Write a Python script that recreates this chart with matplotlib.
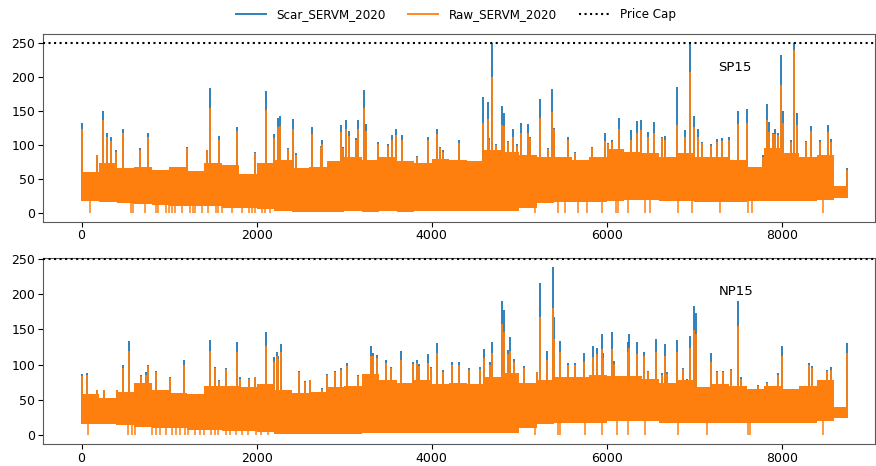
import numpy as np
import matplotlib
matplotlib.use("Agg")
import matplotlib.pyplot as plt

bin_start = list(range(0, 8800, 200))

sp15_high = [60, 74, 66, 68, 64, 68, 62, 74, 70, 58, 74,
             78, 66, 68, 76, 83, 78, 82, 76, 74, 80, 78,
             76, 93, 90, 85, 83, 83, 78, 83, 94, 90, 88,
             82, 88, 83, 83, 78, 68, 96, 88, 83, 85, 40]
sp15_low = [18, 16, 15, 14, 12, 10, 10, 10, 8, 8, 6,
            3, 2, 2, 2, 3, 2, 3, 2, 3, 3, 4,
            3, 3, 3, 8, 15, 17, 17, 17, 18, 20, 20,
            18, 18, 17, 17, 17, 18, 18, 18, 18, 20, 22]

np15_high = [58, 53, 61, 74, 64, 60, 58, 70, 70, 68, 72,
             64, 60, 62, 68, 70, 87, 78, 74, 78, 73, 74,
             72, 83, 88, 74, 78, 83, 83, 86, 84, 84, 80,
             74, 78, 68, 73, 70, 66, 70, 66, 70, 78, 40]
np15_low = [16, 16, 14, 12, 10, 10, 8, 8, 6, 6, 4,
            2, 2, 2, 2, 2, 3, 3, 3, 3, 3, 3,
            3, 3, 3, 10, 16, 18, 18, 18, 20, 20, 20,
            18, 18, 17, 17, 17, 18, 18, 18, 18, 20, 24]

sp15_spike_hour = [8, 175, 248, 294, 339, 395, 469, 670, 755, 1200, 1437, 1471, 1574, 1772,
                   1981, 2111, 2198, 2243, 2270, 2354, 2411, 2449, 2628, 2731, 2750, 2960,
                   2983, 3017, 3059, 3139, 3158, 3226, 3253, 3390, 3505, 3543, 3588, 3657,
                   3828, 3954, 4057, 4095, 4133, 4316, 4590, 4640, 4655, 4693, 4732, 4800,
                   4831, 4876, 4926, 4972, 5021, 5097, 5128, 5234, 5334, 5379, 5402, 5554,
                   5638, 5836, 5981, 6019, 6057, 6141, 6275, 6343, 6389, 6469, 6541, 6629,
                   6662, 6807, 6891, 6952, 6994, 7040, 7089, 7188, 7257, 7314, 7401, 7501,
                   7600, 7790, 7828, 7851, 7897, 7927, 7962, 7992, 8011, 8049, 8102, 8141,
                   8171, 8278, 8331, 8438, 8525, 8560, 8743]
sp15_spike_raw = [123, 86, 136, 112, 106, 90, 117, 93, 111, 95, 92, 154, 107, 121,
                  88, 151, 110, 127, 128, 94, 124, 86, 116, 97, 102, 119,
                  95, 124, 113, 108, 123, 154, 121, 102, 99, 107, 115, 108,
                  82, 108, 116, 95, 90, 103, 132, 138, 108, 200, 100, 129,
                  128, 104, 111, 99, 117, 117, 110, 140, 94, 149, 123, 108,
                  88, 95, 106, 101, 105, 123, 108, 118, 122, 112, 117, 110,
                  107, 129, 112, 207, 127, 112, 103, 99, 105, 106, 107, 131,
                  132, 83, 137, 119, 116, 116, 114, 188, 132, 82, 104, 239,
                  130, 104, 120, 105, 119, 105, 64]
sp15_spike_scar = [132, 86, 150, 118, 111, 92, 124, 95, 117, 97, 93, 184, 113, 127,
                   90, 179, 116, 140, 143, 96, 138, 88, 126, 99, 107, 129,
                   97, 136, 120, 110, 136, 180, 131, 105, 101, 115, 123, 114,
                   84, 111, 124, 97, 92, 108, 171, 163, 110, 250, 102, 157,
                   147, 106, 124, 101, 132, 131, 112, 168, 96, 182, 125, 111,
                   90, 97, 117, 103, 107, 139, 122, 135, 137, 119, 134, 112,
                   113, 185, 122, 250, 142, 124, 105, 101, 109, 110, 111, 150,
                   152, 85, 160, 133, 118, 123, 118, 232, 150, 84, 108, 250,
                   147, 106, 128, 107, 129, 109, 66]

np15_spike_hour = [8, 61, 175, 251, 400, 469, 541, 678, 731, 755, 854, 1010, 1166, 1265,
                   1467, 1524, 1570, 1646, 1776, 1814, 1913, 1981, 2111, 2198, 2228, 2243,
                   2274, 2487, 2556, 2609, 2750, 2800, 2899, 2963, 3036, 3158, 3303, 3333,
                   3379, 3478, 3539, 3653, 3790, 3828, 3851, 3962, 3988, 4057, 4133, 4232,
                   4316, 4427, 4549, 4598, 4663, 4693, 4800, 4831, 4876, 4899, 4945, 5052,
                   5200, 5238, 5315, 5383, 5402, 5467, 5554, 5638, 5741, 5840, 5890, 5943,
                   5962, 6057, 6088, 6237, 6252, 6347, 6424, 6469, 6564, 6629, 6662, 6693,
                   6807, 6868, 6921, 6952, 6998, 7020, 7188, 7257, 7325, 7417, 7501, 7528,
                   7733, 7836, 7961, 8007, 8316, 8342, 8514, 8560, 8750]
np15_spike_raw = [84, 86, 64, 64, 64, 96, 119, 84, 86, 98, 89, 81, 99, 56,
                  119, 95, 77, 94, 118, 80, 80, 82, 126, 104, 112, 108,
                  118, 89, 76, 78, 66, 85, 90, 93, 98, 84, 113, 112,
                  110, 102, 95, 107, 101, 103, 98, 102, 95, 116, 90, 100,
                  100, 92, 94, 110, 100, 116, 157, 146, 115, 119, 104, 96,
                  89, 168, 107, 181, 137, 118, 100, 100, 104, 111, 115, 122,
                  110, 122, 101, 118, 124, 115, 113, 89, 118, 86, 112, 87,
                  118, 94, 78, 124, 149, 144, 104, 89, 89, 92, 155, 80,
                  70, 74, 86, 112, 99, 96, 91, 93, 117]
np15_spike_scar = [87, 88, 64, 64, 64, 100, 133, 85, 89, 100, 91, 83, 106, 57,
                   135, 97, 78, 96, 132, 82, 81, 83, 146, 111, 118, 113,
                   130, 91, 77, 79, 67, 87, 91, 95, 102, 85, 126, 116,
                   114, 106, 97, 120, 104, 107, 101, 115, 97, 131, 92, 104,
                   104, 95, 97, 122, 104, 132, 190, 178, 121, 139, 108, 98,
                   90, 216, 119, 239, 167, 133, 102, 102, 117, 126, 124, 144,
                   116, 146, 105, 132, 144, 132, 118, 91, 137, 88, 129, 89,
                   135, 96, 80, 141, 183, 173, 116, 91, 91, 94, 191, 82,
                   71, 76, 88, 126, 103, 98, 93, 97, 131]

sp15_dips = [95, 560, 590, 724, 850, 876, 960, 1000, 1030, 1067, 1143, 1240, 1270, 1300,
             1372, 1448, 1530, 1560, 1600, 1715, 1830, 1910, 1950, 1980, 2060, 2100, 2150,
             5180, 5448, 5520, 5676, 5772, 5943, 6100, 6133, 6248, 6438, 6490,
             6818, 6971, 7295, 7619, 7657, 8476]
np15_dips = [76, 533, 570, 610, 800, 850, 900, 960, 1030, 1080, 1120, 1180, 1220, 1290,
             1350, 1400, 1480, 1520, 1560, 1650, 1700, 1760, 1830, 1900, 1990, 2050, 2130,
             5180, 5448, 5470, 5753, 5943, 6114, 6248, 6438,
             6818, 7142, 7619, 7640, 8476]

price_cap = 250
scar_label = "Scar_SERVM_2020"
raw_label = "Raw_SERVM_2020"

BLUE = "#1f77b4"
ORANGE = "#ff7f0e"
LAST_HOUR = 8760


def draw_panel(ax, high, low, s_hour, s_raw, s_scar, dips, name, ytop):
    edges = bin_start + [LAST_HOUR]
    hi = high + [high[-1]]
    lo = low + [low[-1]]
    base = [low[min(h // 200, len(low) - 1)] for h in s_hour]
    ax.vlines(s_hour, base, s_scar, color=BLUE, lw=1.3, label=scar_label, zorder=2)
    ax.fill_between(edges, lo, hi, step="post", color=ORANGE, lw=0, zorder=3)
    ax.vlines(s_hour, base, s_raw, color=ORANGE, lw=1.3, label=raw_label, zorder=4)
    dip_top = [low[min(h // 200, len(low) - 1)] + 5 for h in dips]
    ax.vlines(dips, 0, dip_top, color=ORANGE, lw=1.1, zorder=4)
    ax.axhline(price_cap, color="k", ls=":", lw=1.5, label="Price Cap", zorder=5)
    ax.text(7276, ytop, name, fontsize=9.5, va="center", ha="left")
    ax.set_xlim(-442, 9066)
    ax.set_xticks([0, 2000, 4000, 6000, 8000])
    ax.set_yticks([0, 50, 100, 150, 200, 250])
    ax.tick_params(labelsize=9, pad=2)
    for s in ax.spines.values():
        s.set_color("0.35")


fig = plt.figure(figsize=(8.76, 4.66), dpi=100)
ax1 = fig.add_axes([0.049, 0.524, 0.950, 0.403])
ax2 = fig.add_axes([0.049, 0.047, 0.950, 0.399])

draw_panel(ax1, sp15_high, sp15_low, sp15_spike_hour, sp15_spike_raw, sp15_spike_scar,
           sp15_dips, "SP15", 214)
ax1.set_ylim(-12.5, 262.5)
draw_panel(ax2, np15_high, np15_low, np15_spike_hour, np15_spike_raw, np15_spike_scar,
           np15_dips, "NP15", 204)
ax2.set_ylim(-12.5, 251)

h, l = ax1.get_legend_handles_labels()
fig.legend(h, l, loc="upper center", bbox_to_anchor=(0.52, 1.005), ncol=3,
           frameon=False, fontsize=8.6, handlelength=2.7, columnspacing=1.8)

fig.savefig("out.png", dpi=100)
